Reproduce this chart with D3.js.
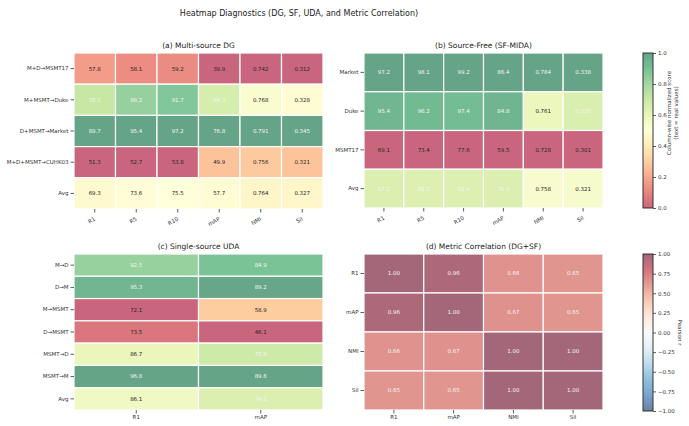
<!DOCTYPE html>
<meta charset="utf-8">
<script src="https://d3js.org/d3.v7.min.js"></script>
<style>
  body { margin: 0; background: #fff; }
  text { font-family: "DejaVu Sans", sans-serif; }
</style>
<body>
<div id="chart"></div>
<script>

// ---- data ----
// (a) multi-source DG
var metricCols = ["R1", "R5", "R10", "mAP", "NMI", "Sil"];
var dgRows = ["M+D→MSMT17", "M+MSMT→Duke", "D+MSMT→Market", "M+D+MSMT→CUHK03", "Avg"];
var dgValues = [
  [57.8, 58.1, 59.2, 39.9, 0.742, 0.312],
  [78.5, 88.2, 91.7, 64.3, 0.768, 0.328],
  [89.7, 95.4, 97.2, 76.8, 0.791, 0.345],
  [51.3, 52.7, 53.8, 49.9, 0.756, 0.321],
  [69.3, 73.6, 75.5, 57.7, 0.764, 0.327]
];
// (b) source-free
var sfRows = ["Market", "Duke", "MSMT17", "Avg"];
var sfValues = [
  [97.2, 98.1, 99.2, 86.4, 0.784, 0.338],
  [95.4, 96.2, 97.4, 84.8, 0.761, 0.325],
  [69.1, 73.4, 77.6, 59.5, 0.728, 0.301],
  [87.2, 89.2, 91.4, 76.9, 0.758, 0.321]
];
// (c) single-source UDA
var udaRows = ["M→D", "D→M", "M→MSMT", "D→MSMT", "MSMT→D", "MSMT→M", "Avg"];
var udaCols = ["R1", "mAP"];
var udaR1 = [92.5, 95.3, 72.1, 73.5, 86.7, 96.8, 86.1];
var udaMAP = [84.9, 89.2, 58.9, 46.1, 75.9, 89.6, 74.1];
// (d) metric correlation
var corrLabels = ["R1", "mAP", "NMI", "Sil"];
var corrValues = [
  [1.00, 0.96, 0.66, 0.65],
  [0.96, 1.00, 0.67, 0.65],
  [0.66, 0.67, 1.00, 1.00],
  [0.65, 0.65, 1.00, 1.00]
];
var normTicks = [0, 0.2, 0.4, 0.6, 0.8, 1.0];
var corrTicks = [-1, -0.75, -0.5, -0.25, 0, 0.25, 0.5, 0.75, 1];

// ---- setup ----
var width = 689, height = 426, alpha = 0.6;

var svg = d3.select("#chart").append("svg")
  .attr("width", width)
  .attr("height", height);

var defs = svg.append("defs");

// matplotlib-like colormaps (linear between brewer colours)
var rdylgn = d3.scaleLinear()
  .domain(d3.range(11).map(function (i) { return i / 10; }))
  .range(["#a50026", "#d73027", "#f46d43", "#fdae61", "#fee08b", "#ffffbf",
          "#d9ef8b", "#a6d96a", "#66bd63", "#1a9850", "#006837"])
  .clamp(true);
var rdbu_r = d3.scaleLinear()
  .domain(d3.range(11).map(function (i) { return -1 + i / 5; }))
  .range(["#053061", "#2166ac", "#4393c3", "#92c5de", "#d1e5f0", "#f7f7f7",
          "#fddbc7", "#f4a582", "#d6604d", "#b2182b", "#67001f"])
  .clamp(true);

// column-wise min-max normalisation
function normalize(values) {
  var nc = values[0].length;
  var ext = d3.range(nc).map(function (j) {
    return d3.extent(values, function (row) { return row[j]; });
  });
  return values.map(function (row) {
    return row.map(function (v, j) { return (v - ext[j][0]) / (ext[j][1] - ext[j][0]); });
  });
}

function fmtVal(v) { return v < 1 ? v.toFixed(3) : v.toFixed(1); }

function styleAxis(ax) {
  ax.select(".domain").remove();
  ax.selectAll(".tick line").attr("stroke", "#333").attr("stroke-width", 0.8);
  ax.selectAll(".tick text").attr("fill", "#333").style("font-size", "5.5px");
}

function heatmap(box, title, rows, cols, values, colorVal, color, label, lightText, rotate) {
  var g = svg.append("g").attr("transform", "translate(" + box.x + "," + box.y + ")");
  var x = d3.scaleBand().domain(cols).range([0, box.w]);
  var y = d3.scaleBand().domain(rows).range([0, box.h]);

  var cells = [];
  rows.forEach(function (r, i) {
    cols.forEach(function (c, j) {
      cells.push({ r: r, c: c, v: values[i][j], k: colorVal[i][j] });
    });
  });

  g.selectAll("rect.cell")
    .data(cells)
    .enter().append("rect")
    .attr("class", "cell")
    .attr("x", function (d) { return x(d.c); })
    .attr("y", function (d) { return y(d.r); })
    .attr("width", x.bandwidth())
    .attr("height", y.bandwidth())
    .attr("fill", function (d) { return color(d.k); })
    .attr("fill-opacity", alpha)
    .attr("stroke", "#fff")
    .attr("stroke-width", 1.2);

  g.selectAll("text.val")
    .data(cells)
    .enter().append("text")
    .attr("class", "val")
    .attr("x", function (d) { return x(d.c) + x.bandwidth() / 2; })
    .attr("y", function (d) { return y(d.r) + y.bandwidth() / 2; })
    .attr("dy", "0.35em")
    .attr("text-anchor", "middle")
    .style("font-size", "5.5px")
    .attr("fill", function (d) { return lightText(d) ? "#f4f4f4" : "#262626"; })
    .text(function (d) { return label(d.v); });

  var ay = g.append("g").call(d3.axisLeft(y).tickSize(3.5).tickPadding(2));
  styleAxis(ay);

  var ax = g.append("g")
    .attr("transform", "translate(0," + box.h + ")")
    .call(d3.axisBottom(x).tickSize(3.5).tickPadding(2));
  styleAxis(ax);
  if (rotate) {
    ax.selectAll(".tick text")
      .attr("text-anchor", "end")
      .attr("y", 0)
      .attr("dy", 0)
      .attr("transform", "translate(1,11) rotate(-30)");
  }

  g.append("text")
    .attr("x", box.w / 2)
    .attr("y", -5)
    .attr("text-anchor", "middle")
    .style("font-size", "7.5px")
    .attr("fill", "#222")
    .text(title);
}

function colorbar(box, id, scale, domain, ticks, fmt, labelLines, labelPos, labelRot) {
  var grad = defs.append("linearGradient")
    .attr("id", id)
    .attr("x1", 0).attr("y1", 1).attr("x2", 0).attr("y2", 0);
  d3.range(21).forEach(function (i) {
    var t = i / 20;
    grad.append("stop")
      .attr("offset", t)
      .attr("stop-color", scale(domain[0] + t * (domain[1] - domain[0])));
  });
  var g = svg.append("g").attr("transform", "translate(" + box.x + "," + box.y + ")");
  g.append("rect")
    .attr("width", box.w).attr("height", box.h)
    .attr("fill", "url(#" + id + ")")
    .attr("fill-opacity", alpha);
  g.append("rect")
    .attr("width", box.w).attr("height", box.h)
    .attr("fill", "none").attr("stroke", "#222").attr("stroke-width", 0.9);

  var s = d3.scaleLinear().domain(domain).range([box.h, 0]);
  var ax = g.append("g")
    .attr("transform", "translate(" + box.w + ",0)")
    .call(d3.axisRight(s).tickValues(ticks).tickFormat(fmt).tickSize(3).tickPadding(2));
  styleAxis(ax);

  var lg = g.append("g")
    .attr("transform", "translate(" + labelPos[0] + "," + labelPos[1] + ") rotate(" + labelRot + ")");
  labelLines.forEach(function (line, i) {
    lg.append("text")
      .attr("x", 0)
      .attr("y", (i - (labelLines.length - 1) / 2) * 7)
      .attr("dy", "0.35em")
      .attr("text-anchor", "middle")
      .style("font-size", "5.5px")
      .attr("fill", "#333")
      .text(line);
  });
}

// ---- main title ----
svg.append("text")
  .attr("x", 299)
  .attr("y", 16)
  .attr("text-anchor", "middle")
  .style("font-size", "8px")
  .attr("fill", "#222")
  .text("Heatmap Diagnostics (DG, SF, UDA, and Metric Correlation)");

// ---- panels ----
var dgNorm = normalize(dgValues);
heatmap({ x: 74, y: 53, w: 249, h: 156 }, "(a) Multi-source DG",
  dgRows, metricCols, dgValues, dgNorm, rdylgn, fmtVal,
  function (d) { return d.k > 0.6; }, true);

var sfNorm = normalize(sfValues);
heatmap({ x: 364, y: 53, w: 239, h: 155 }, "(b) Source-Free (SF-MIDA)",
  sfRows, metricCols, sfValues, sfNorm, rdylgn, fmtVal,
  function (d) { return d.k > 0.6; }, true);

var udaValues = udaR1.map(function (v, i) { return [v, udaMAP[i]]; });
var udaNorm = normalize(udaValues);
heatmap({ x: 74, y: 254, w: 249, h: 156 }, "(c) Single-source UDA",
  udaRows, udaCols, udaValues, udaNorm, rdylgn, fmtVal,
  function (d) { return d.k > 0.6; }, false);

heatmap({ x: 364, y: 254, w: 239, h: 156 }, "(d) Metric Correlation (DG+SF)",
  corrLabels, corrLabels, corrValues, corrValues, rdbu_r,
  function (v) { return v.toFixed(2); },
  function (d) { return Math.abs(d.k) > 0.5; }, false);

// ---- colorbars ----
colorbar({ x: 643, y: 53, w: 10, h: 155 }, "cb1", rdylgn, [0, 1], normTicks,
  d3.format(".1f"), ["Column-wise normalized score", "(text = real values)"], [30, 60], -90);

colorbar({ x: 643, y: 254, w: 10, h: 157 }, "cb2", rdbu_r, [-1, 1], corrTicks,
  d3.format(".2f"), ["Pearson r"], [37, 78.5], 90);

</script>
</body>
